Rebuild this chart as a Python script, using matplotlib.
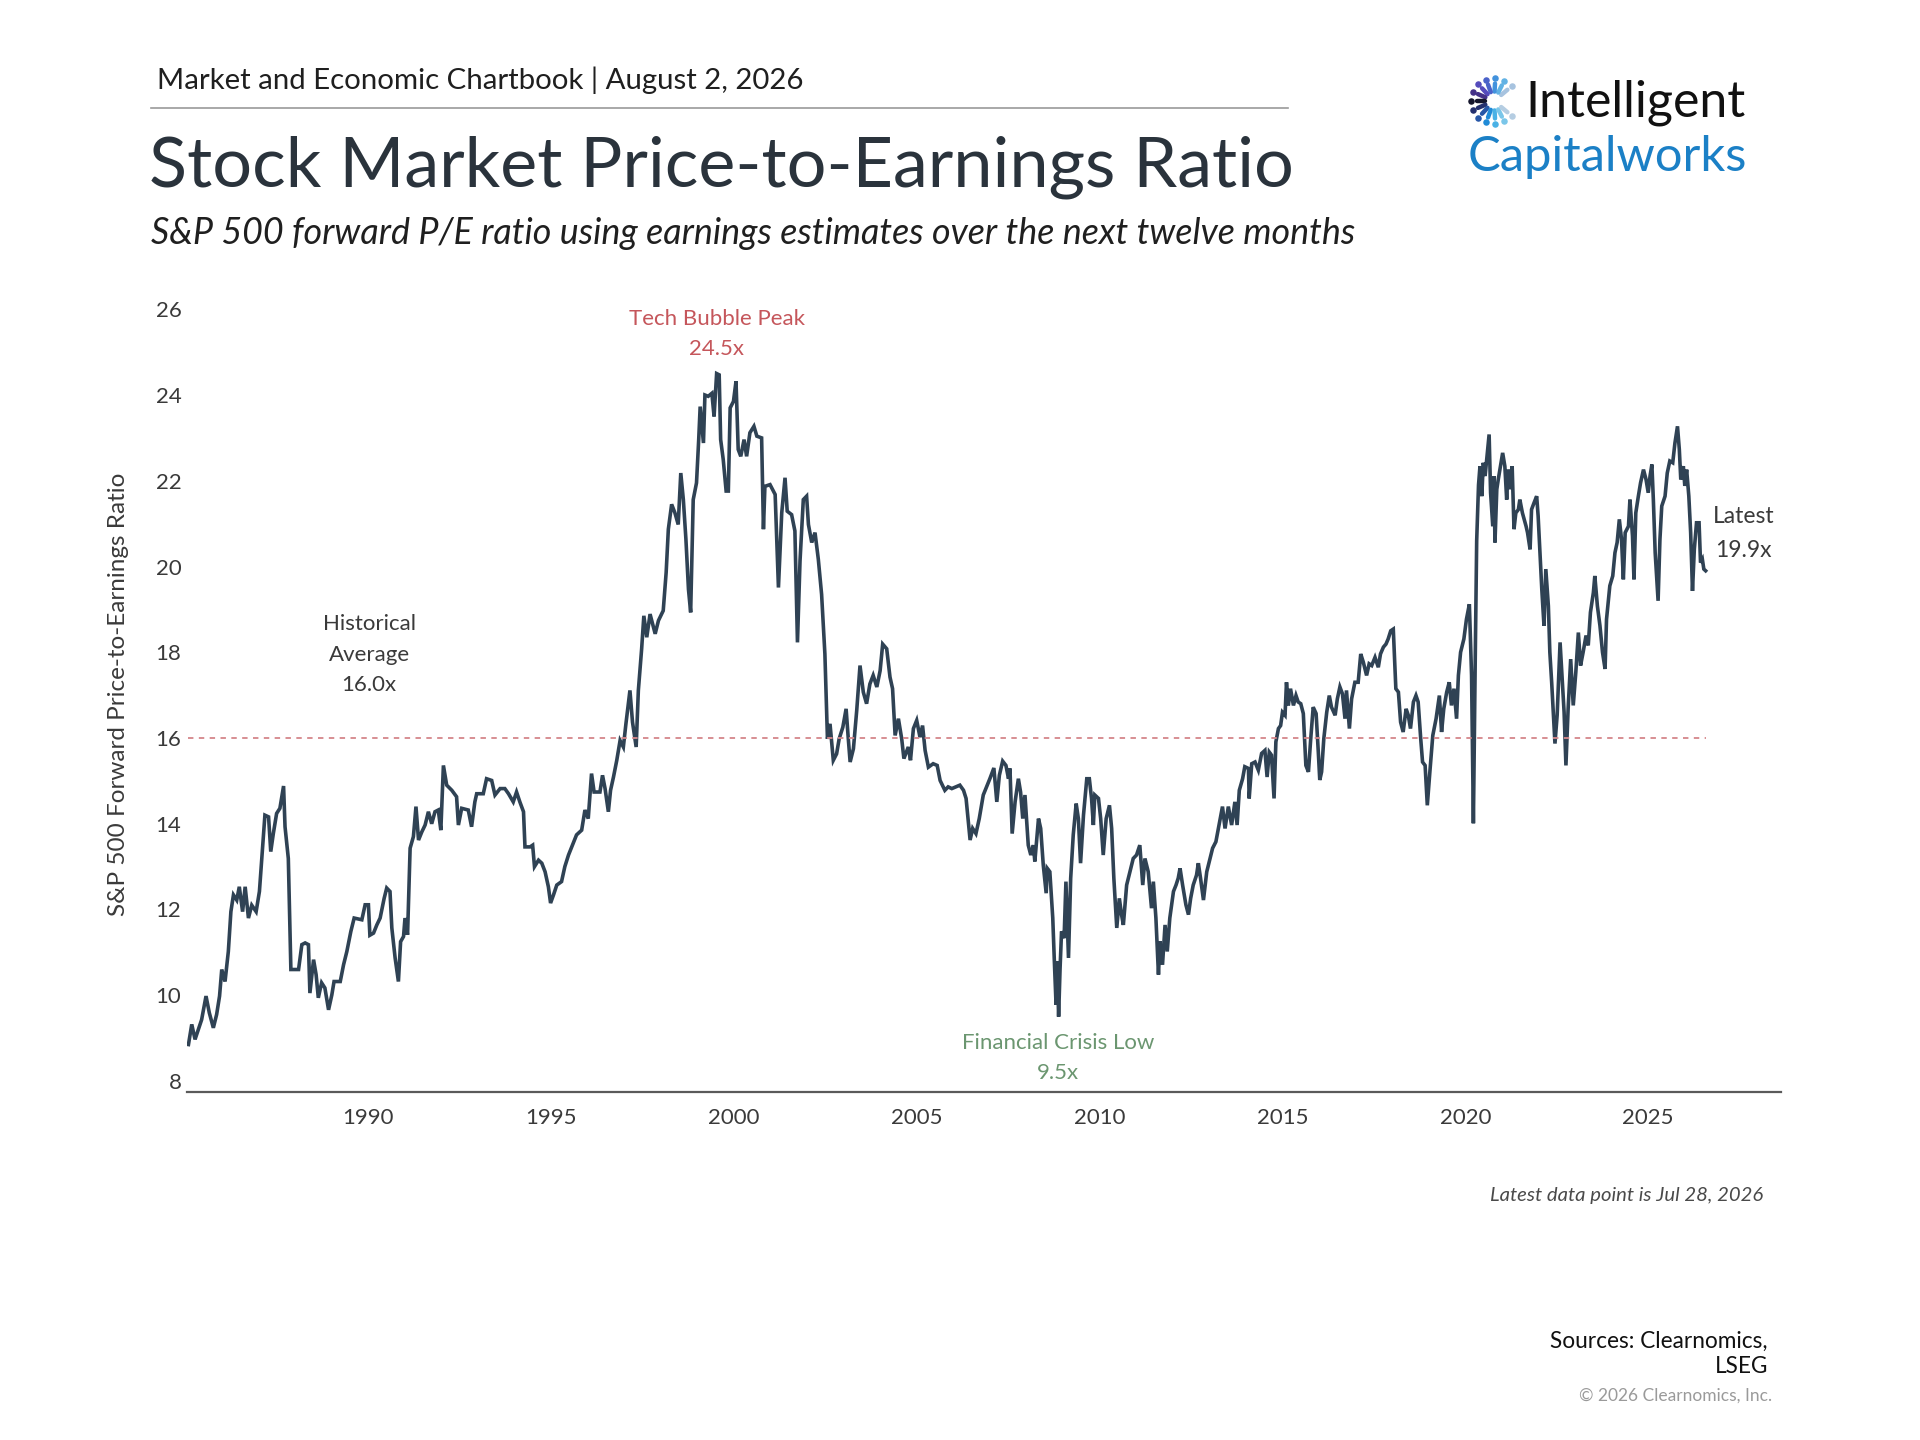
import numpy as np
import matplotlib
matplotlib.use("Agg")
import matplotlib.pyplot as plt
from matplotlib.colors import LinearSegmentedColormap

plt.rcParams["font.family"] = ["Lato", "DejaVu Sans"]

# ── Data (decimal year, forward P/E) ────────────────────────────────────────
years = [
    1985.09, 1985.18, 1985.27, 1985.36, 1985.45, 1985.57, 1985.66, 1985.77, 1985.86, 1985.94,
    1986.00, 1986.09, 1986.18, 1986.25, 1986.32, 1986.41, 1986.48, 1986.57, 1986.64, 1986.73,
    1986.82, 1986.94, 1987.03, 1987.09, 1987.18, 1987.28, 1987.34, 1987.41, 1987.50, 1987.59,
    1987.69, 1987.73, 1987.82, 1987.89, 1988.10, 1988.19, 1988.28, 1988.37, 1988.41, 1988.51,
    1988.58, 1988.64, 1988.73, 1988.82, 1988.92, 1989.01, 1989.07, 1989.24, 1989.33, 1989.42,
    1989.53, 1989.62, 1989.83, 1989.92, 1990.01, 1990.05, 1990.15, 1990.24, 1990.33, 1990.44,
    1990.51, 1990.60, 1990.65, 1990.74, 1990.83, 1990.89, 1990.97, 1991.01, 1991.08, 1991.15,
    1991.24, 1991.31, 1991.38, 1991.47, 1991.56, 1991.65, 1991.74, 1991.83, 1991.92, 1991.99,
    1992.06, 1992.15, 1992.29, 1992.42, 1992.47, 1992.56, 1992.74, 1992.83, 1992.92, 1992.97,
    1993.15, 1993.24, 1993.38, 1993.47, 1993.61, 1993.74, 1993.84, 1993.97, 1994.06, 1994.15,
    1994.25, 1994.29, 1994.43, 1994.50, 1994.55, 1994.66, 1994.75, 1994.84, 1994.93, 1994.99,
    1995.07, 1995.16, 1995.29, 1995.38, 1995.48, 1995.57, 1995.70, 1995.84, 1995.93, 1996.02,
    1996.11, 1996.18, 1996.34, 1996.41, 1996.48, 1996.57, 1996.63, 1996.71, 1996.80, 1996.89,
    1996.98, 1997.05, 1997.16, 1997.23, 1997.33, 1997.39, 1997.48, 1997.54, 1997.62, 1997.71,
    1997.85, 1997.94, 1998.07, 1998.15, 1998.21, 1998.30, 1998.39, 1998.48, 1998.55, 1998.62,
    1998.69, 1998.76, 1998.82, 1998.89, 1998.98, 1999.04, 1999.08, 1999.17, 1999.21, 1999.30,
    1999.40, 1999.46, 1999.53, 1999.60, 1999.64, 1999.71, 1999.79, 1999.85, 1999.90, 1999.99,
    2000.06, 2000.12, 2000.19, 2000.28, 2000.35, 2000.44, 2000.55, 2000.63, 2000.76, 2000.81,
    2000.85, 2000.99, 2001.13, 2001.22, 2001.31, 2001.40, 2001.46, 2001.58, 2001.67, 2001.74,
    2001.81, 2001.90, 2001.99, 2002.04, 2002.13, 2002.22, 2002.31, 2002.40, 2002.49, 2002.56,
    2002.63, 2002.72, 2002.81, 2002.88, 2002.98, 2003.07, 2003.13, 2003.18, 2003.27, 2003.36,
    2003.45, 2003.54, 2003.63, 2003.72, 2003.81, 2003.91, 2004.00, 2004.07, 2004.18, 2004.27,
    2004.34, 2004.41, 2004.50, 2004.59, 2004.65, 2004.77, 2004.83, 2004.91, 2005.00, 2005.09,
    2005.16, 2005.23, 2005.32, 2005.45, 2005.56, 2005.64, 2005.77, 2005.86, 2005.96, 2006.18,
    2006.28, 2006.35, 2006.41, 2006.46, 2006.53, 2006.62, 2006.71, 2006.82, 2006.91, 2007.00,
    2007.11, 2007.19, 2007.26, 2007.35, 2007.44, 2007.51, 2007.55, 2007.61, 2007.69, 2007.78,
    2007.84, 2007.90, 2007.96, 2008.05, 2008.12, 2008.19, 2008.23, 2008.33, 2008.39, 2008.46,
    2008.54, 2008.57, 2008.64, 2008.72, 2008.76, 2008.81, 2008.84, 2008.88, 2008.92, 2008.96,
    2009.03, 2009.08, 2009.15, 2009.21, 2009.28, 2009.36, 2009.42, 2009.48, 2009.56, 2009.65,
    2009.72, 2009.78, 2009.83, 2009.87, 2009.97, 2010.03, 2010.10, 2010.18, 2010.27, 2010.33,
    2010.39, 2010.47, 2010.54, 2010.60, 2010.65, 2010.74, 2010.83, 2010.92, 2011.01, 2011.10,
    2011.18, 2011.24, 2011.33, 2011.42, 2011.47, 2011.54, 2011.61, 2011.65, 2011.72, 2011.79,
    2011.85, 2011.92, 2012.02, 2012.09, 2012.15, 2012.20, 2012.27, 2012.36, 2012.43, 2012.49,
    2012.56, 2012.65, 2012.70, 2012.76, 2012.84, 2012.93, 2013.02, 2013.09, 2013.18, 2013.36,
    2013.43, 2013.52, 2013.61, 2013.70, 2013.76, 2013.82, 2013.91, 2013.97, 2014.07, 2014.09,
    2014.16, 2014.25, 2014.34, 2014.43, 2014.52, 2014.58, 2014.64, 2014.70, 2014.77, 2014.82,
    2014.89, 2014.95, 2015.00, 2015.07, 2015.11, 2015.16, 2015.22, 2015.30, 2015.37, 2015.43,
    2015.50, 2015.57, 2015.64, 2015.71, 2015.77, 2015.84, 2015.92, 2015.98, 2016.02, 2016.07,
    2016.13, 2016.21, 2016.28, 2016.34, 2016.44, 2016.50, 2016.57, 2016.64, 2016.71, 2016.75,
    2016.83, 2016.89, 2016.98, 2017.07, 2017.14, 2017.21, 2017.30, 2017.37, 2017.44, 2017.53,
    2017.62, 2017.68, 2017.76, 2017.83, 2017.89, 2017.96, 2018.03, 2018.10, 2018.17, 2018.23,
    2018.30, 2018.38, 2018.44, 2018.50, 2018.58, 2018.65, 2018.71, 2018.78, 2018.83, 2018.90,
    2018.96, 2019.03, 2019.11, 2019.20, 2019.29, 2019.35, 2019.41, 2019.49, 2019.56, 2019.62,
    2019.69, 2019.76, 2019.81, 2019.87, 2019.96, 2020.03, 2020.11, 2020.17, 2020.22, 2020.27,
    2020.31, 2020.36, 2020.40, 2020.45, 2020.49, 2020.54, 2020.65, 2020.69, 2020.75, 2020.78,
    2020.81, 2020.86, 2020.90, 2020.96, 2021.02, 2021.08, 2021.13, 2021.17, 2021.22, 2021.28,
    2021.33, 2021.38, 2021.45, 2021.49, 2021.56, 2021.66, 2021.70, 2021.77, 2021.81, 2021.88,
    2021.95, 2021.99, 2022.04, 2022.09, 2022.15, 2022.20, 2022.27, 2022.31, 2022.36, 2022.40,
    2022.45, 2022.51, 2022.59, 2022.66, 2022.70, 2022.75, 2022.81, 2022.88, 2022.95, 2023.02,
    2023.09, 2023.15, 2023.22, 2023.30, 2023.36, 2023.42, 2023.50, 2023.54, 2023.61, 2023.68,
    2023.75, 2023.82, 2023.86, 2023.95, 2024.03, 2024.09, 2024.15, 2024.21, 2024.27, 2024.32,
    2024.37, 2024.46, 2024.50, 2024.57, 2024.61, 2024.66, 2024.73, 2024.79, 2024.87, 2024.94,
    2025.00, 2025.05, 2025.10, 2025.14, 2025.19, 2025.27, 2025.32, 2025.37, 2025.46, 2025.52,
    2025.59, 2025.67, 2025.73, 2025.80, 2025.85, 2025.89, 2025.96, 2026.00, 2026.05, 2026.11,
    2026.16, 2026.21, 2026.26, 2026.32, 2026.39, 2026.43, 2026.48, 2026.52, 2026.57,
]

pe_ratio = [
    8.85, 9.32, 8.97, 9.20, 9.43, 9.98, 9.59, 9.24, 9.55, 9.98,
    10.60, 10.32, 11.02, 11.95, 12.34, 12.22, 12.53, 11.95, 12.53, 11.80,
    12.10, 11.95, 12.42, 13.12, 14.20, 14.16, 13.35, 13.77, 14.24, 14.36,
    14.88, 13.93, 13.19, 10.60, 10.60, 11.18, 11.22, 11.18, 10.05, 10.83,
    10.48, 9.94, 10.29, 10.17, 9.66, 10.01, 10.32, 10.32, 10.71, 11.02,
    11.49, 11.80, 11.76, 12.11, 12.11, 11.40, 11.45, 11.64, 11.80, 12.26,
    12.50, 12.42, 11.57, 10.87, 10.32, 11.25, 11.37, 11.80, 11.41, 13.43,
    13.70, 14.40, 13.62, 13.81, 13.97, 14.28, 14.00, 14.28, 14.32, 13.85,
    15.36, 14.90, 14.78, 14.63, 13.97, 14.36, 14.32, 13.93, 14.51, 14.70,
    14.70, 15.05, 15.01, 14.67, 14.82, 14.82, 14.70, 14.51, 14.74, 14.51,
    14.28, 13.46, 13.46, 13.50, 13.00, 13.15, 13.08, 12.88, 12.53, 12.15,
    12.34, 12.57, 12.65, 13.00, 13.27, 13.46, 13.74, 13.85, 14.32, 14.12,
    15.17, 14.74, 14.74, 15.13, 14.82, 14.28, 14.78, 15.09, 15.48, 15.94,
    15.79, 16.33, 17.11, 16.37, 15.79, 17.11, 18.08, 18.85, 18.35, 18.89,
    18.43, 18.74, 18.97, 19.86, 20.87, 21.45, 21.25, 20.98, 22.18, 21.56,
    20.64, 19.47, 18.93, 21.56, 21.95, 22.96, 23.73, 22.88, 24.00, 23.97,
    24.04, 23.50, 24.50, 24.47, 22.96, 22.50, 21.76, 21.76, 23.70, 23.85,
    24.32, 22.73, 22.57, 22.96, 22.57, 23.12, 23.27, 23.04, 23.00, 20.87,
    21.87, 21.91, 21.68, 19.51, 21.25, 22.07, 21.29, 21.21, 20.83, 18.23,
    20.13, 21.56, 21.64, 20.98, 20.56, 20.79, 20.17, 19.35, 17.96, 15.98,
    16.33, 15.48, 15.63, 15.98, 16.25, 16.68, 15.98, 15.44, 15.75, 16.64,
    17.69, 17.07, 16.80, 17.26, 17.46, 17.19, 17.57, 18.19, 18.08, 17.42,
    17.15, 16.06, 16.45, 15.98, 15.52, 15.79, 15.48, 16.22, 16.41, 16.02,
    16.29, 15.71, 15.32, 15.40, 15.36, 15.01, 14.78, 14.86, 14.82, 14.90,
    14.78, 14.59, 14.05, 13.62, 13.89, 13.77, 14.12, 14.67, 14.86, 15.05,
    15.30, 14.51, 15.13, 15.46, 15.36, 15.05, 15.29, 13.77, 14.51, 15.05,
    14.74, 14.12, 14.67, 13.50, 13.27, 13.50, 13.12, 14.12, 13.89, 13.04,
    12.38, 12.96, 12.88, 11.80, 10.87, 9.78, 10.79, 9.50, 10.63, 11.49,
    11.33, 12.65, 10.87, 12.73, 13.74, 14.47, 14.12, 13.08, 14.20, 15.05,
    15.05, 14.59, 13.97, 14.67, 14.59, 14.12, 13.27, 14.12, 14.43, 13.89,
    12.73, 11.57, 12.26, 11.88, 11.64, 12.57, 12.88, 13.19, 13.27, 13.50,
    12.57, 13.19, 12.88, 12.03, 12.65, 11.80, 10.48, 11.26, 10.71, 11.64,
    11.02, 11.80, 12.42, 12.57, 12.73, 12.96, 12.57, 12.11, 11.88, 12.26,
    12.57, 12.80, 13.08, 12.73, 12.22, 12.88, 13.19, 13.43, 13.58, 14.40,
    13.89, 14.40, 13.97, 14.51, 13.97, 14.78, 15.05, 15.33, 15.29, 14.59,
    15.40, 15.44, 15.25, 15.64, 15.71, 15.09, 15.67, 15.60, 14.59, 15.91,
    16.22, 16.29, 16.60, 16.53, 17.30, 16.76, 17.15, 16.76, 16.99, 16.84,
    16.80, 16.57, 15.36, 15.21, 15.95, 16.72, 16.57, 15.67, 15.02, 15.21,
    15.98, 16.60, 16.99, 16.72, 16.53, 16.91, 17.19, 17.03, 16.45, 17.11,
    16.22, 16.91, 17.30, 17.30, 17.96, 17.77, 17.46, 17.73, 17.69, 17.88,
    17.65, 17.96, 18.12, 18.19, 18.31, 18.50, 18.54, 17.15, 17.07, 16.37,
    16.14, 16.68, 16.53, 16.22, 16.84, 16.99, 16.84, 15.98, 15.44, 15.36,
    14.43, 15.21, 16.06, 16.45, 16.99, 16.14, 16.68, 17.07, 17.30, 16.76,
    17.15, 16.45, 17.46, 18.00, 18.31, 18.77, 19.12, 17.46, 14.01, 17.80,
    20.60, 21.90, 22.34, 21.64, 22.42, 22.11, 23.08, 21.72, 20.94, 22.11,
    20.56, 21.80, 22.03, 22.34, 22.65, 22.34, 21.56, 22.26, 21.80, 22.34,
    20.87, 21.25, 21.33, 21.56, 21.25, 20.94, 20.79, 20.40, 21.33, 21.49,
    21.64, 21.18, 20.32, 19.47, 18.62, 19.94, 19.08, 18.00, 17.30, 16.68,
    15.87, 16.53, 18.23, 17.22, 16.60, 15.36, 16.68, 17.84, 16.76, 17.53,
    18.46, 17.69, 18.00, 18.39, 18.16, 18.93, 19.39, 19.78, 19.08, 18.62,
    18.00, 17.61, 18.77, 19.55, 19.78, 20.32, 20.56, 21.10, 20.63, 19.70,
    20.79, 20.94, 21.56, 20.71, 19.70, 21.25, 21.64, 21.95, 22.26, 22.03,
    21.72, 22.11, 22.38, 21.56, 20.32, 19.20, 20.63, 21.41, 21.64, 22.18,
    22.46, 22.42, 22.88, 23.27, 22.73, 22.03, 22.34, 21.88, 22.26, 21.64,
    20.79, 19.43, 20.40, 21.02, 21.02, 20.09, 20.17, 19.94, 19.90,
]

hist_avg = 16.0
peak_year, peak_value = 1999.54, 24.5
low_year, low_value = 2008.86, 9.5
latest_value = 19.9

y_ticks = [8, 10, 12, 14, 16, 18, 20, 22, 24, 26]
x_ticks = [1990, 1995, 2000, 2005, 2010, 2015, 2020, 2025]

# ── Colours ─────────────────────────────────────────────────────────────────
LINE_COLOR = "#2f4254"
AVG_COLOR = "#d4868a"
PEAK_COLOR = "#c5565b"
LOW_COLOR = "#6b9670"
TEXT_COLOR = "#3a3a3a"
TITLE_COLOR = "#2a333c"
BLUE = "#1b80c6"

W, H = 1920, 1440


def fx(px):
    return px / W


def fy(py):
    return 1 - py / H


fig = plt.figure(figsize=(19.2, 14.4), dpi=100)
fig.patch.set_facecolor("white")

# ── Header ──────────────────────────────────────────────────────────────────
fig.text(fx(157), fy(80), "Market and Economic Chartbook | August 2, 2026",
         fontsize=21.2, color="#1f1f1f", ha="left", va="center")
fig.add_artist(plt.Line2D([fx(151), fx(1288)], [fy(108), fy(108)],
                          color="#9a9a9a", linewidth=1.2))
fig.text(fx(149), fy(167), "Stock Market Price-to-Earnings Ratio",
         fontsize=50.5, color=TITLE_COLOR, ha="left", va="center")
fig.text(fx(151), fy(234),
         "S&P 500 forward P/E ratio using earnings estimates over the next twelve months",
         fontsize=25.8, style="italic", color="#1f1f1f", ha="left", va="center")

# logo
fig.text(fx(1525), fy(103), "Intelligent", fontsize=36, color="#111111",
         ha="left", va="center")
fig.text(fx(1468), fy(157), "Capitalworks", fontsize=35.2, color=BLUE,
         ha="left", va="center")

lax = fig.add_axes([fx(1466), fy(130), fx(56), 58 / H])
lax.set_xlim(-1.25, 1.25)
lax.set_ylim(-1.25, 1.25)
lax.set_aspect("equal")
lax.axis("off")
logo_cmap = LinearSegmentedColormap.from_list(
    "logo", ["#a7c3df", "#3fa9e6", "#4a62c9", "#5b3fb5", "#15152a",
             "#2b3d8f", "#1f8ad6", "#5cc3ec", "#b5cde2"])
angles = np.linspace(40, 320, 13)
for i, a in enumerate(angles):
    c = logo_cmap(i / (len(angles) - 1))
    t = np.deg2rad(a)
    lax.plot([0.42 * np.cos(t), 0.78 * np.cos(t)], [0.42 * np.sin(t), 0.78 * np.sin(t)],
             color=c, linewidth=3.2, solid_capstyle="round")
    lax.scatter([1.02 * np.cos(t)], [1.02 * np.sin(t)], s=22, color=c, linewidths=0)

# ── Chart ───────────────────────────────────────────────────────────────────
ax = fig.add_axes([fx(187), fy(1091.7), fx(1781 - 187), (1091.7 - 296.4) / H])
ax.plot(years, pe_ratio, color=LINE_COLOR, linewidth=2.6, solid_joinstyle="miter")
ax.plot([years[0], years[-1]], [hist_avg, hist_avg], color=AVG_COLOR,
        linewidth=1.3, linestyle=(0, (3, 3)))

ax.set_xlim(1985.05, 2028.63)
ax.set_ylim(7.75, 26.3)
ax.set_yticks(y_ticks)
ax.set_xticks(x_ticks)
ax.tick_params(axis="both", length=0, labelsize=16, labelcolor=TEXT_COLOR)
ax.tick_params(axis="y", pad=4)
ax.tick_params(axis="x", pad=12)
for side in ("top", "right", "left"):
    ax.spines[side].set_visible(False)
ax.spines["bottom"].set_color("#5a5a5a")
ax.spines["bottom"].set_linewidth(1.6)
ax.set_ylabel("S&P 500 Forward Price-to-Earnings Ratio", fontsize=17.5,
              color=TEXT_COLOR, labelpad=19)

ax.text(1990.03, 17.94, "Historical\nAverage\n" + f"{hist_avg:.1f}x",
        ha="center", va="center", fontsize=16, color=TEXT_COLOR, linespacing=1.65)
ax.text(peak_year, 25.42, "Tech Bubble Peak\n" + f"{peak_value:.1f}x",
        ha="center", va="center", fontsize=16, color=PEAK_COLOR, linespacing=1.65)
ax.text(low_year, 8.53, "Financial Crisis Low\n" + f"{low_value:.1f}x",
        ha="center", va="center", fontsize=16, color=LOW_COLOR, linespacing=1.65)
ax.text(2027.6, 20.77, "Latest\n" + f"{latest_value:.1f}x",
        ha="center", va="center", fontsize=16.5, color=TEXT_COLOR, linespacing=1.75)

# ── Footer ──────────────────────────────────────────────────────────────────
fig.text(fx(1763), fy(1195), "Latest data point is Jul 28, 2026", fontsize=14.6,
         style="italic", color="#4a4a4a", ha="right", va="center")
fig.text(fx(1768), fy(1354), "Sources: Clearnomics,\nLSEG", fontsize=16.3,
         color="#111111", ha="right", va="center", multialignment="right",
         linespacing=1.22)
fig.text(fx(1772), fy(1396), "© 2026 Clearnomics, Inc.", fontsize=12.5,
         color="#9a9a9a", ha="right", va="center")

fig.savefig("out.png", dpi=100)
